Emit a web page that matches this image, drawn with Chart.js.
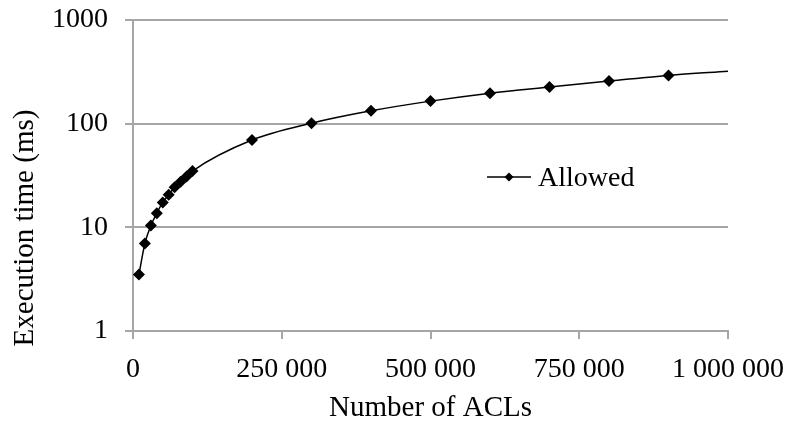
<!DOCTYPE html>
<html>
<head>
<meta charset="utf-8">
<script src="https://cdn.jsdelivr.net/npm/chart.js@4.4.1/dist/chart.umd.min.js"></script>
<style>
  html, body { margin: 0; padding: 0; background: #fff; }
  #wrap { width: 790px; height: 421px; }
</style>
</head>
<body>
<div id="wrap"><canvas id="c" width="790" height="421"></canvas></div>
<script>
const seriesName = 'Allowed';
const aclCounts = [10000, 20000, 30000, 40000, 50000, 60000, 70000, 80000, 90000, 100000,
                   200000, 300000, 400000, 500000, 600000, 700000, 800000, 900000, 1000000];
const execTimes = [3.5, 7.0, 10.4, 13.7, 17.4, 20.6, 24.3, 27.5, 31.0, 34.9,
                   69.5, 101, 133, 165, 197, 226, 258, 292, 320];
const showMarker = [1,1,1,1,1,1,1,1,1,1, 1,1,1,1,1,1,1,1,0];
const xTickValues = [0, 250000, 500000, 750000, 1000000];
const xTickLabels = ['0', '250 000', '500 000', '750 000', '1 000 000'];
const yTickValues = [1, 10, 100, 1000];
const yTickLabels = ['1', '10', '100', '1000'];
const xTitle = 'Number of ACLs';
const yTitle = 'Execution time (ms)';

const FONT = 'Liberation Serif';
const GRID = '#a6a6a6';

const extras = {
  id: 'extras',
  afterDraw(chart) {
    const ctx = chart.ctx;
    ctx.save();
    // y-axis title
    ctx.font = '29px "' + FONT + '"';
    ctx.fillStyle = '#000';
    ctx.translate(33, 228);
    ctx.rotate(-Math.PI / 2);
    ctx.textAlign = 'center';
    ctx.textBaseline = 'alphabetic';
    ctx.fillText(yTitle, 0, 0);
    ctx.restore();
    // legend
    ctx.save();
    ctx.strokeStyle = '#000';
    ctx.lineWidth = 1.5;
    ctx.beginPath();
    ctx.moveTo(487, 177);
    ctx.lineTo(531, 177);
    ctx.stroke();
    ctx.fillStyle = '#000';
    ctx.beginPath();
    ctx.moveTo(509 - 4.5, 177);
    ctx.lineTo(509, 177 - 4.5);
    ctx.lineTo(509 + 4.5, 177);
    ctx.lineTo(509, 177 + 4.5);
    ctx.closePath();
    ctx.fill();
    ctx.font = '28px "' + FONT + '"';
    ctx.textAlign = 'left';
    ctx.textBaseline = 'alphabetic';
    ctx.fillText(chart.data.datasets[0].label, 538, 186);
    ctx.restore();
  }
};

new Chart(document.getElementById('c'), {
  type: 'line',
  data: {
    datasets: [{
      label: seriesName,
      data: aclCounts.map((x, i) => ({ x: x, y: execTimes[i] })),
      borderColor: '#000',
      backgroundColor: '#000',
      borderWidth: 1.5,
      cubicInterpolationMode: 'monotone',
      pointStyle: 'rectRot',
      pointRadius: showMarker.map(m => m ? 6 : 0),
      pointHoverRadius: 0,
      pointBorderWidth: 0,
      pointBackgroundColor: '#000',
      fill: false
    }]
  },
  options: {
    responsive: false,
    animation: false,
    events: [],
    layout: { padding: { left: 0, right: 62, top: 20, bottom: 0 } },
    plugins: { legend: { display: false }, tooltip: { enabled: false }, title: { display: false } },
    scales: {
      x: {
        type: 'linear',
        min: 0,
        max: 1000000,
        afterBuildTicks: s => { s.ticks = xTickValues.map(v => ({ value: v })); },
        afterFit: s => { s.height = 90; s.paddingLeft = 0; s.paddingRight = 0; },
        ticks: {
          color: '#000',
          font: { family: FONT, size: 28 },
          padding: 14,
          maxRotation: 0,
          autoSkip: false,
          callback: (v, i) => xTickLabels[i]
        },
        grid: { display: true, drawOnChartArea: false, drawTicks: true, tickLength: 8, color: GRID, lineWidth: 2 },
        border: { display: true, color: GRID, width: 2 },
        title: { display: true, text: xTitle, color: '#000', font: { family: FONT, size: 29 }, padding: { top: 0, bottom: -5 } }
      },
      y: {
        type: 'logarithmic',
        min: 1,
        max: 1000,
        afterBuildTicks: s => { s.ticks = yTickValues.map(v => ({ value: v })); },
        afterFit: s => { s.width = 133; s.paddingTop = 0; s.paddingBottom = 0; },
        ticks: {
          color: '#000',
          font: { family: FONT, size: 28 },
          padding: 17,
          autoSkip: false,
          callback: (v, i) => yTickLabels[i]
        },
        grid: { display: true, drawTicks: true, tickLength: 8, color: GRID, lineWidth: 2 },
        border: { display: true, color: GRID, width: 2 }
      }
    }
  },
  plugins: [extras]
});
</script>
</body>
</html>
